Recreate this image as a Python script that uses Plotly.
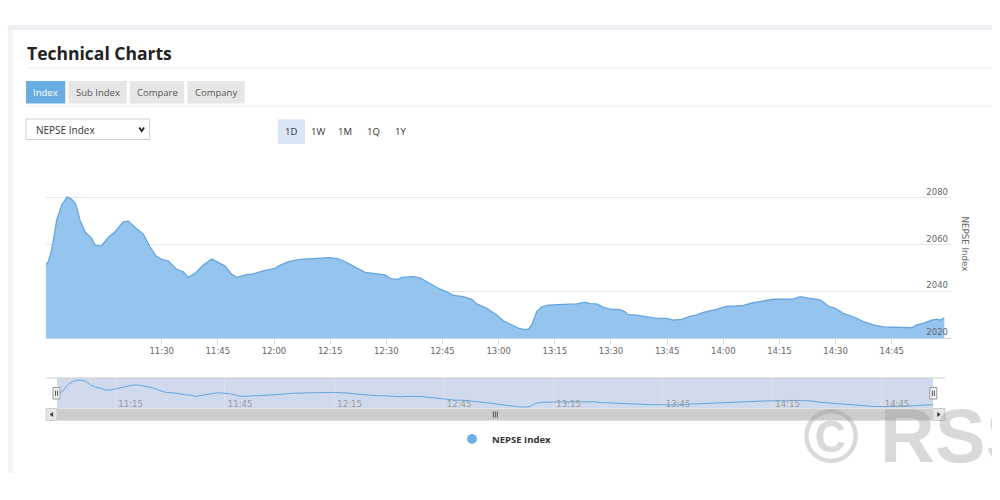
import plotly.graph_objects as go

# ---------------- data ----------------
DATE = "2021-06-13"
times = ["10:59:01","10:59:43","11:00:37","11:01:57","11:03:17","11:04:47","11:05:58","11:07:02","11:08:11","11:09:31",
         "11:11:18","11:12:11","11:13:47","11:15:44","11:17:32","11:19:44","11:21:05","11:23:08","11:25:05","11:26:52",
         "11:28:29","11:30:00","11:31:46","11:34:01","11:35:46","11:37:06","11:38:53","11:41:07","11:43:21","11:44:41",
         "11:46:55","11:48:42","11:50:02","11:53:08","11:54:02","11:57:08","12:00:16","12:01:08","12:03:49","12:06:56",
         "12:11:24","12:13:10","12:14:30","12:16:44","12:18:31","12:21:11","12:24:18","12:26:31","12:29:38","12:31:26",
         "12:33:12","12:34:06","12:37:12","12:38:59","12:40:20","12:42:33","12:44:20","12:46:07","12:47:53","12:50:34",
         "12:52:48","12:54:08","12:56:49","12:59:29","13:01:14","13:03:02","13:05:15","13:06:35","13:07:55","13:08:50",
         "13:10:10","13:11:30","13:13:16","13:17:16","13:19:04","13:20:51","13:23:04","13:24:24","13:26:11","13:27:57",
         "13:29:44","13:32:25","13:33:45","13:34:38","13:36:52","13:39:32","13:42:13","13:44:53","13:46:39","13:48:53",
         "13:50:40","13:52:54","13:54:40","13:58:14","14:00:55","14:03:08","14:05:21","14:08:01","14:10:41","14:13:22",
         "14:18:42","14:20:29","14:23:10","14:25:50","14:28:03","14:29:50","14:32:04","14:34:44","14:37:24","14:40:04",
         "14:42:44","14:46:19","14:48:32","14:50:20","14:51:40","14:53:26","14:55:40","14:57:01","14:57:53","14:59:02"]
nepse_index = [2051.3, 2052.7, 2057.7, 2070.5, 2077.0, 2080.5, 2079.4, 2077.4, 2070.5, 2065.5,
               2062.7, 2059.8, 2059.4, 2063.1, 2065.5, 2069.8, 2070.1, 2067.0, 2064.5, 2059.1,
               2055.1, 2053.7, 2053.0, 2049.4, 2048.4, 2046.0, 2047.7, 2051.3, 2053.8, 2052.7,
               2050.8, 2047.3, 2046.0, 2047.4, 2047.3, 2048.8, 2049.8, 2050.8, 2052.7, 2053.7,
               2054.0, 2054.1, 2054.4, 2054.1, 2053.1, 2050.8, 2048.1, 2047.7, 2047.0, 2045.3,
               2045.1, 2046.0, 2046.3, 2045.8, 2044.5, 2042.3, 2040.9, 2039.8, 2038.3, 2037.7,
               2036.6, 2034.6, 2032.7, 2029.9, 2027.4, 2026.0, 2024.2, 2023.7, 2023.7, 2025.6,
               2031.3, 2033.4, 2034.1, 2034.4, 2034.6, 2034.6, 2035.4, 2034.7, 2034.6, 2033.1,
               2032.4, 2032.2, 2031.2, 2030.0, 2029.8, 2029.2, 2028.4, 2028.4, 2027.7, 2028.0,
               2029.1, 2029.9, 2031.0, 2032.3, 2033.7, 2033.7, 2034.0, 2035.1, 2036.0, 2036.6,
               2036.7, 2037.7, 2037.0, 2036.3, 2033.7, 2032.7, 2030.6, 2029.1, 2027.0, 2025.6,
               2024.8, 2024.6, 2024.8, 2024.4, 2025.6, 2026.3, 2027.7, 2028.1, 2027.7, 2028.7]
y_ticks = [2020, 2040, 2060, 2080, 2100]
y_tick_labels = ["2020", "2040", "2060", "2080", ""]
x_tick_labels = ["11:30", "11:45", "12:00", "12:15", "12:30", "12:45", "13:00",
                 "13:15", "13:30", "13:45", "14:00", "14:15", "14:30", "14:45"]
nav_tick_labels = ["11:15", "11:45", "12:15", "12:45", "13:15", "13:45", "14:15", "14:45"]
series_name = "NEPSE Index"
page_title = "Technical Charts"
tab_labels = ["Index", "Sub Index", "Compare", "Company"]
range_labels = ["1D", "1W", "1M", "1Q", "1Y"]
dropdown_label = "NEPSE Index"
watermark = "© RSS"

# ---------------- helpers ----------------
# the page body adds an 8px margin, so the figure is drawn at (8, 8) of the window
OFF = 8
W, H = 1000 - OFF, 500 - OFF
def PX(x): return (x - OFF) / W
def PY(y): return 1 - (y - OFF) / H

xs = [f"{DATE} {t}" for t in times]
xt = [f"{DATE} {t}" for t in x_tick_labels]
nt = [f"{DATE} {t}" for t in nav_tick_labels]

LINE = "#65a5de"
FILL = "#95c4ee"
UI_FONT = "Open Sans"
AX_FONT = "DejaVu Sans"

fig = go.Figure()
fig.add_trace(go.Scatter(x=xs, y=nepse_index, mode="lines", line=dict(color=LINE, width=1.3),
                         fill="tozeroy", fillcolor=FILL, xaxis="x", yaxis="y",
                         showlegend=False, hoverinfo="skip"))
fig.add_trace(go.Scatter(x=xs, y=nepse_index, mode="lines", line=dict(color=LINE, width=1),
                         xaxis="x2", yaxis="y2", showlegend=False, hoverinfo="skip"))
fig.add_trace(go.Scatter(x=[None], y=[None], mode="markers", name=series_name,
                         marker=dict(size=10, color="#70b0e6"), xaxis="x", yaxis="y"))

shapes = []
annotations = []

# page background pieces
shapes.append(dict(type="rect", xref="paper", yref="paper", x0=PX(OFF), x1=PX(998), y0=PY(30), y1=PY(25),
                   fillcolor="#eef0f6", line=dict(width=0), layer="below"))
shapes.append(dict(type="rect", xref="paper", yref="paper", x0=PX(OFF), x1=PX(13), y0=PY(473), y1=PY(30),
                   fillcolor="#f4f5f9", line=dict(width=0), layer="below"))
# title + separators
annotations.append(dict(text=page_title, xref="paper", yref="paper", x=PX(25), y=PY(53),
                        xanchor="left", yanchor="middle", showarrow=False,
                        font=dict(family=UI_FONT, size=17.5, color="#222222", weight="bold")))
for yy in (68, 106):
    shapes.append(dict(type="line", xref="paper", yref="paper", x0=PX(26), x1=PX(993), y0=PY(yy), y1=PY(yy),
                       line=dict(color="#ebebeb", width=1)))
# tabs
tab_pos = [(26, 65.3), (68.3, 126.7), (129.7, 184.3), (187.3, 244.7)]
for i, (lab, (a, b)) in enumerate(zip(tab_labels, tab_pos)):
    active = i == 0
    shapes.append(dict(type="rect", xref="paper", yref="paper", x0=PX(a), x1=PX(b), y0=PY(103.5), y1=PY(81),
                       fillcolor="#67ade4" if active else "#e6e6e6", line=dict(width=0)))
    annotations.append(dict(text=lab, xref="paper", yref="paper", x=PX((a + b) / 2), y=PY(92.3),
                            xanchor="center", yanchor="middle", showarrow=False,
                            font=dict(family=UI_FONT, size=9.5, color="#ffffff" if active else "#555555")))
# dropdown
shapes.append(dict(type="rect", xref="paper", yref="paper", x0=PX(26), x1=PX(149.7), y0=PY(139.5), y1=PY(119),
                   fillcolor="#ffffff", line=dict(color="#cfcfcf", width=1)))
annotations.append(dict(text=dropdown_label, xref="paper", yref="paper", x=PX(33.5), y=PY(129.5),
                        xanchor="left", yanchor="middle", showarrow=False,
                        font=dict(family=UI_FONT, size=10, color="#333333")))
shapes.append(dict(type="path", xref="paper", yref="paper",
                   path=f"M {PX(139.3)} {PY(127.6)} L {PX(141.7)} {PY(131.2)} L {PX(144.1)} {PY(127.6)}",
                   line=dict(color="#222222", width=1.8)))
# range buttons
rb_x = [291.3, 318.3, 345, 373.3, 400.7]
shapes.append(dict(type="rect", xref="paper", yref="paper", x0=PX(277.7), x1=PX(305), y0=PY(144), y1=PY(119.3),
                   fillcolor="#d9e6f6", line=dict(width=0)))
for lab, cx in zip(range_labels, rb_x):
    annotations.append(dict(text=lab, xref="paper", yref="paper", x=PX(cx), y=PY(131.5),
                            xanchor="center", yanchor="middle", showarrow=False,
                            font=dict(family=UI_FONT, size=9.5, color="#333333")))

# y-axis title (reads top to bottom)
annotations.append(dict(text=series_name, xref="paper", yref="paper", x=PX(964.5), y=PY(244),
                        xanchor="center", yanchor="middle", showarrow=False, textangle=90,
                        font=dict(family=AX_FONT, size=8.7, color="#666666")))

# navigator decorations
shapes.append(dict(type="rect", xref="x2 domain", yref="y2 domain", x0=0, x1=1, y0=0, y1=1,
                   fillcolor="rgba(102,133,194,0.3)", line=dict(width=0), layer="below"))
shapes.append(dict(type="line", xref="paper", yref="paper", x0=PX(46), x1=PX(945), y0=PY(378), y1=PY(378),
                   line=dict(color="#cccccc", width=1)))
# scrollbar
shapes.append(dict(type="rect", xref="paper", yref="paper", x0=PX(46), x1=PX(945), y0=PY(420.5), y1=PY(408.5),
                   fillcolor="#f2f2f2", line=dict(width=0)))
shapes.append(dict(type="rect", xref="paper", yref="paper", x0=PX(57), x1=PX(933), y0=PY(420.5), y1=PY(408.5),
                   fillcolor="#cdcdcd", line=dict(width=0)))
for a, b in ((46, 57), (933, 945)):
    shapes.append(dict(type="rect", xref="paper", yref="paper", x0=PX(a), x1=PX(b), y0=PY(420.5), y1=PY(408.5),
                       fillcolor="#e6e6e6", line=dict(color="#cccccc", width=1)))
shapes.append(dict(type="path", xref="paper", yref="paper",
                   path=f"M {PX(52.8)} {PY(412.5)} L {PX(50)} {PY(414.5)} L {PX(52.8)} {PY(416.5)} Z",
                   fillcolor="#333333", line=dict(color="#333333", width=0.5)))
shapes.append(dict(type="path", xref="paper", yref="paper",
                   path=f"M {PX(937.5)} {PY(412.5)} L {PX(940.3)} {PY(414.5)} L {PX(937.5)} {PY(416.5)} Z",
                   fillcolor="#333333", line=dict(color="#333333", width=0.5)))
for gx in (493.3, 495.3, 497.3):
    shapes.append(dict(type="line", xref="paper", yref="paper", x0=PX(gx), x1=PX(gx), y0=PY(411.5), y1=PY(417.5),
                       line=dict(color="#333333", width=0.8)))
# handles
for cx in (56.5, 933.3):
    shapes.append(dict(type="rect", xref="paper", yref="paper", x0=PX(cx - 3.5), x1=PX(cx + 3.5),
                       y0=PY(399), y1=PY(387.5), fillcolor="#f2f2f2", line=dict(color="#999999", width=1)))
    for dx in (-1, 1):
        shapes.append(dict(type="line", xref="paper", yref="paper", x0=PX(cx + dx), x1=PX(cx + dx),
                           y0=PY(396), y1=PY(390.5), line=dict(color="#333333", width=0.8)))

# watermark
annotations.append(dict(text=watermark, xref="paper", yref="paper", x=PX(801), y=PY(435),
                        xanchor="left", yanchor="middle", showarrow=False,
                        font=dict(family="Liberation Sans", size=76, color="rgba(150,150,150,0.36)", weight="bold")))

fig.update_layout(
    width=W, height=H, autosize=False,
    margin=dict(l=0, r=0, t=0, b=0),
    paper_bgcolor="#ffffff", plot_bgcolor="#ffffff",
    showlegend=True,
    legend=dict(x=PX(452), y=PY(439), xanchor="left", yanchor="middle", bgcolor="rgba(0,0,0,0)",
                font=dict(family=UI_FONT, size=9.5, color="#333333", weight="bold"), itemwidth=30),
    xaxis=dict(domain=[PX(45.7), PX(951)], range=[f"{DATE} 10:59:01", f"{DATE} 15:00:49"], type="date",
               tickvals=xt, ticktext=x_tick_labels, ticks="outside", ticklen=5, tickcolor="#ccd6eb",
               showline=True, linecolor="#ccd6eb", linewidth=1, showgrid=False, zeroline=False,
               tickfont=dict(family=AX_FONT, size=8.5, color="#666666"), anchor="y", fixedrange=True),
    yaxis=dict(domain=[PY(338), PY(151.3)], range=[2020, 2100], side="right", tickvals=y_ticks,
               ticktext=y_tick_labels, ticklabelposition="inside top", showgrid=True, gridcolor="#e6e6e6",
               zeroline=False, showline=False, ticks="",
               tickfont=dict(family=AX_FONT, size=8.5, color="#666666"), anchor="x", fixedrange=True),
    xaxis2=dict(domain=[PX(57), PX(933)], range=[f"{DATE} 10:59:01", f"{DATE} 14:59:02"], type="date",
                tickvals=nt, ticktext=nav_tick_labels, ticks="", ticklabelposition="inside right",
                ticklabelstandoff=-7, ticklabelshift=3,
                showgrid=True, gridcolor="#e2e2e2", showline=False, zeroline=False,
                tickfont=dict(family=AX_FONT, size=8.5, color="#999999"), anchor="y2", fixedrange=True),
    yaxis2=dict(domain=[PY(408), PY(378)], range=[2021.6, 2084.7], visible=False, anchor="x2", fixedrange=True),
    shapes=shapes, annotations=annotations,
)

fig.write_html("out.html", config={"displayModeBar": False})
